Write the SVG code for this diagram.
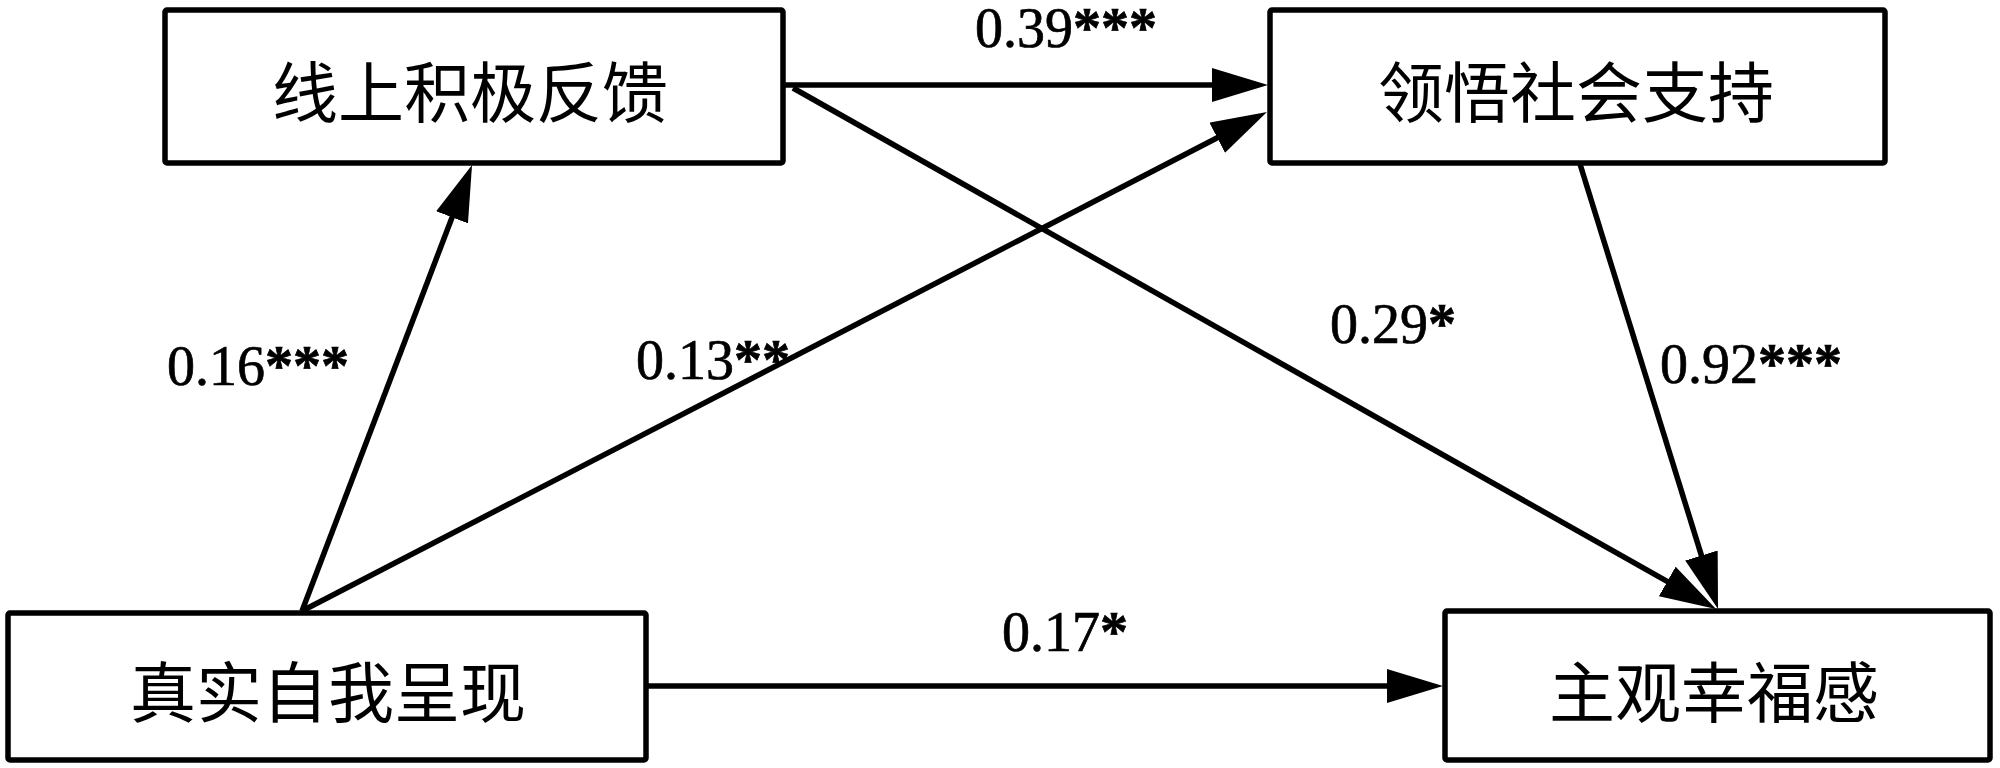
<svg xmlns="http://www.w3.org/2000/svg" width="2000" height="768" viewBox="0 0 2000 768">
  <style>
    .box { fill: #ffffff; stroke: #000000; stroke-width: 5.5; }
    .node-text { font-family: "Noto Sans CJK SC", "Liberation Serif", serif; font-size: 66px; fill: #000000; text-anchor: middle; dominant-baseline: central; }
    .conn { stroke: #000000; stroke-width: 5.5; fill: none; marker-end: url(#arrow); }
    .label { font-family: "Liberation Serif", "Times New Roman", serif; font-size: 56px; fill: #000000; stroke: #000000; stroke-width: 0.7; }
    .star { font-weight: bold; }
  </style>
  <defs>
    <marker id="arrow" markerUnits="userSpaceOnUse" markerWidth="56" markerHeight="34" refX="36" refY="17" orient="auto">
      <path d="M0,0 L56,17 L0,34 Z" fill="#000000"/>
    </marker>
  </defs>
  <rect width="2000" height="768" fill="#ffffff"/>

  <g id="connectors">
    <line class="conn" x1="783" y1="85" x2="1248" y2="85"/>
    <line class="conn" x1="793" y1="88" x2="1698.6" y2="599.2"/>
    <line class="conn" x1="302" y1="611" x2="464.9" y2="183.7"/>
    <line class="conn" x1="302" y1="611" x2="1249.2" y2="121.2"/>
    <line class="conn" x1="1580" y1="164" x2="1712.1" y2="589.9"/>
    <line class="conn" x1="648" y1="686" x2="1423" y2="686"/>
  </g>

  <g id="node-feedback">
    <rect class="box" x="165" y="10" width="618" height="153" rx="2"/>
    <text class="node-text" x="470" y="88">线上积极反馈</text>
  </g>
  <g id="node-support">
    <rect class="box" x="1270" y="10" width="615" height="153" rx="2"/>
    <text class="node-text" x="1576" y="88">领悟社会支持</text>
  </g>
  <g id="node-self">
    <rect class="box" x="8" y="613" width="638" height="147" rx="2"/>
    <text class="node-text" x="328" y="688">真实自我呈现</text>
  </g>
  <g id="node-wellbeing">
    <rect class="box" x="1445" y="611" width="545" height="149" rx="2"/>
    <text class="node-text" x="1714" y="688">主观幸福感</text>
  </g>

  <g id="labels">
    <text class="label" x="975" y="47">0.39<tspan class="star">***</tspan></text>
    <text class="label" x="167" y="385">0.16<tspan class="star">***</tspan></text>
    <text class="label" x="636" y="379">0.13<tspan class="star">**</tspan></text>
    <text class="label" x="1330" y="343">0.29<tspan class="star">*</tspan></text>
    <text class="label" x="1660" y="383">0.92<tspan class="star">***</tspan></text>
    <text class="label" x="1002" y="651">0.17<tspan class="star">*</tspan></text>
  </g>
</svg>
